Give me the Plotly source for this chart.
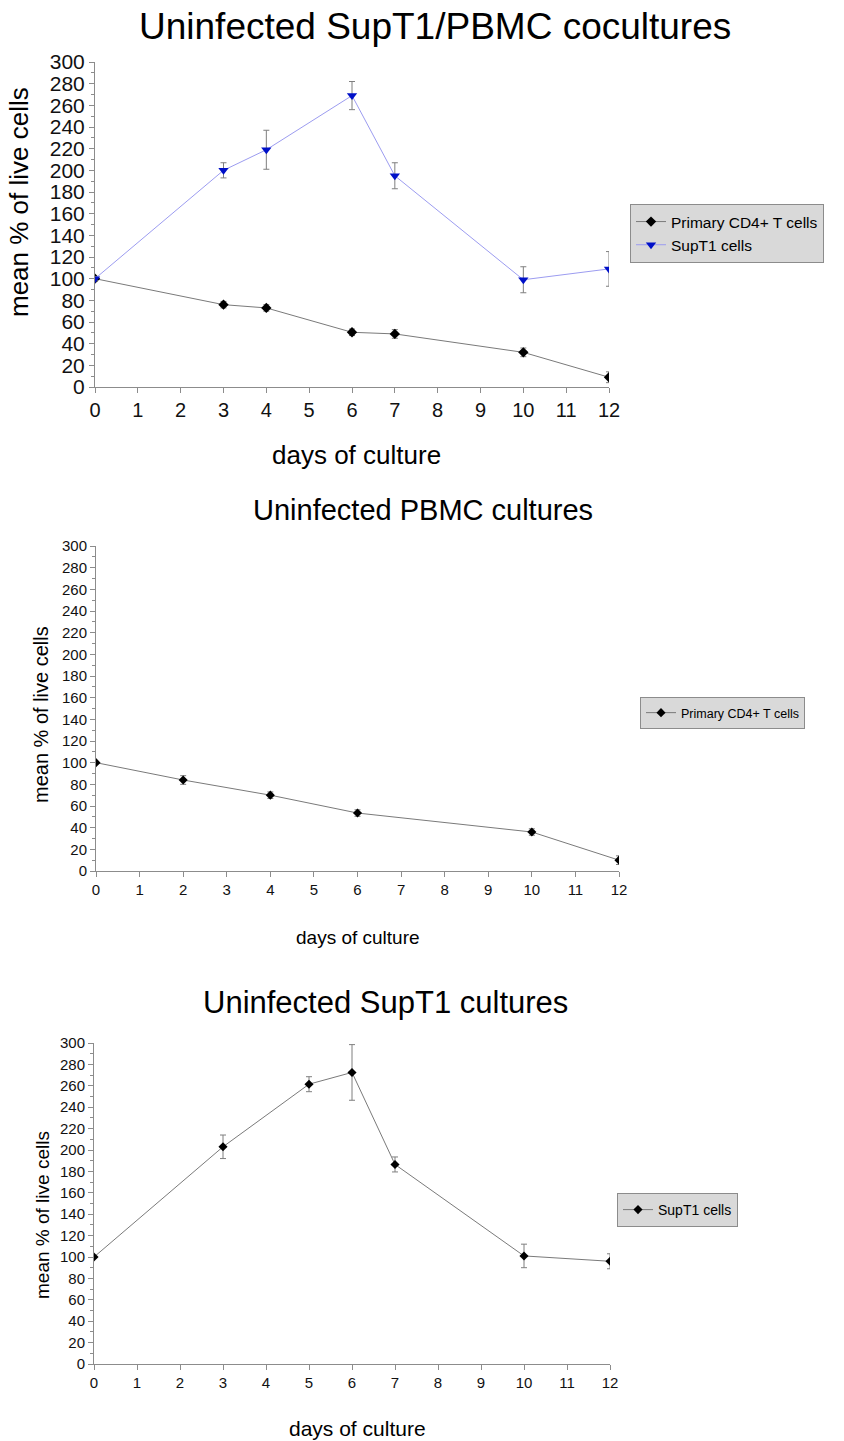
import plotly.graph_objects as go

# ---- data: mean % of live cells by day of culture ----
# Uninfected SupT1/PBMC cocultures
co_days = [0, 3, 4, 6, 7, 10, 12]
co_cd4 = [100, 76, 73, 50.5, 49, 32, 9]
co_cd4_err = [2, 3, 3, 3, 4, 4, 5]
co_supt1 = [100, 200, 219, 269, 195, 99, 109]
co_supt1_err = [2, 7, 18, 13, 12, 12, 16]

# Uninfected PBMC cultures
pbmc_days = [0, 2, 4, 6, 10, 12]
pbmc_cd4 = [100, 84, 70, 53.5, 36, 10]
pbmc_cd4_err = [1, 4, 3, 3, 3, 4]

# Uninfected SupT1 cultures
sup_days = [0, 3, 5, 6, 7, 10, 12]
sup_vals = [100, 203, 261.5, 272.5, 186.5, 101, 96]
sup_err = [1, 11, 7, 26, 7, 11, 7]

xticks = list(range(0, 13))
ytick_vals = list(range(0, 301, 20))

titles = ["Uninfected SupT1/PBMC cocultures", "Uninfected PBMC cultures",
          "Uninfected SupT1 cultures"]
legend_names = ["Primary CD4+ T cells", "SupT1 cells"]
xlabel = "days of culture"
ylabel = "mean % of live cells"

W, H = 844, 1441
FONT = "Arial, Liberation Sans, sans-serif"
AXIS_GRAY = "#8c8c8c"
ERR_GRAY = "#7f7f7f"


def py(px):
    return 1 - px / H


def pxx(px):
    return px / W


fig = go.Figure()


def err(vals):
    return dict(type="data", array=vals, visible=True, color=ERR_GRAY,
                thickness=1, width=3)


# panel 1
fig.add_trace(go.Scatter(
    x=co_days, y=co_cd4, error_y=err(co_cd4_err), name=legend_names[0],
    mode="lines+markers", line=dict(color="#7a7a7a", width=1),
    marker=dict(symbol="diamond", size=8, color="black"),
    xaxis="x", yaxis="y", legend="legend"))
fig.add_trace(go.Scatter(
    x=co_days, y=co_supt1, error_y=err(co_supt1_err), name=legend_names[1],
    mode="lines+markers", line=dict(color="#9c9cf0", width=1),
    marker=dict(symbol="triangle-down", size=9, color="#0010c8"),
    xaxis="x", yaxis="y", legend="legend"))
# panel 2
fig.add_trace(go.Scatter(
    x=pbmc_days, y=pbmc_cd4, error_y=err(pbmc_cd4_err), name=legend_names[0],
    mode="lines+markers", line=dict(color="#7a7a7a", width=1),
    marker=dict(symbol="diamond", size=7, color="black"),
    xaxis="x2", yaxis="y2", legend="legend2"))
# panel 3
fig.add_trace(go.Scatter(
    x=sup_days, y=sup_vals, error_y=err(sup_err), name=legend_names[1],
    mode="lines+markers", line=dict(color="#7a7a7a", width=1),
    marker=dict(symbol="diamond", size=7, color="black"),
    xaxis="x3", yaxis="y3", legend="legend3"))

# plot-area pixel boxes: (left, right, top, bottom, x tick size, y tick size)
panels = [
    (95, 609, 62, 387, 20, 21),
    (96, 619, 546, 871, 15, 15),
    (94, 610, 1043, 1364, 15, 15),
]

layout = dict(
    width=W, height=H, margin=dict(l=0, r=0, t=0, b=0, autoexpand=False),
    paper_bgcolor="white", plot_bgcolor="white",
    font=dict(family=FONT, color="black"),
    showlegend=True,
)

for i, (l, r, t, b, xfs, yfs) in enumerate(panels):
    sfx = "" if i == 0 else str(i + 1)
    layout["xaxis" + sfx] = dict(
        domain=[pxx(l), pxx(r)], range=[0, 12], anchor="y" + sfx,
        tickvals=xticks, ticks="outside", ticklen=5, tickcolor=AXIS_GRAY,
        showline=True, linecolor=AXIS_GRAY, linewidth=1, showgrid=False,
        zeroline=False, automargin=False,
        tickfont=dict(size=xfs, family=FONT, color="#111"),
        fixedrange=True)
    layout["yaxis" + sfx] = dict(
        domain=[py(b), py(t)], range=[0, 300], anchor="x" + sfx,
        tickvals=ytick_vals, ticks="outside", ticklen=5, tickcolor=AXIS_GRAY,
        minor=dict(dtick=10, ticks="outside", ticklen=3, tickcolor=AXIS_GRAY),
        showline=True, linecolor=AXIS_GRAY, linewidth=1, showgrid=False,
        zeroline=False, automargin=False,
        tickfont=dict(size=yfs, family=FONT, color="#111"),
        fixedrange=True)

leg_common = dict(bgcolor="#d9d9d9", bordercolor="#8c8c8c", borderwidth=1,
                  xanchor="left", yanchor="top", itemwidth=30,
                  tracegroupgap=0)
layout["legend"] = dict(x=pxx(630), y=py(204),
                        font=dict(size=15.5, family=FONT), **leg_common)
layout["legend2"] = dict(x=pxx(640), y=py(697),
                         font=dict(size=12.5, family=FONT), **leg_common)
layout["legend3"] = dict(x=pxx(617), y=py(1193),
                         font=dict(size=14, family=FONT), **leg_common)

annotations = [
    # panel titles
    dict(text=titles[0], x=pxx(435), y=py(27), font=dict(size=37)),
    dict(text=titles[1], x=pxx(423), y=py(510), font=dict(size=29)),
    dict(text=titles[2], x=pxx(385), y=py(1003), font=dict(size=31)),
    # x axis titles
    dict(text=xlabel, x=pxx(356), y=py(455), font=dict(size=26)),
    dict(text=xlabel, x=pxx(358), y=py(937), font=dict(size=19)),
    dict(text=xlabel, x=pxx(357), y=py(1428), font=dict(size=21)),
    # y axis titles
    dict(text=ylabel, x=pxx(19), y=py(202), font=dict(size=26), textangle=-90),
    dict(text=ylabel, x=pxx(41), y=py(715), font=dict(size=20), textangle=-90),
    dict(text=ylabel, x=pxx(42), y=py(1215), font=dict(size=19), textangle=-90),
]
for a in annotations:
    a.update(xref="paper", yref="paper", showarrow=False,
             xanchor="center", yanchor="middle")
    a["font"].update(family=FONT, color="black")
layout["annotations"] = annotations

fig.update_layout(**layout)
fig.write_html("out.html")
